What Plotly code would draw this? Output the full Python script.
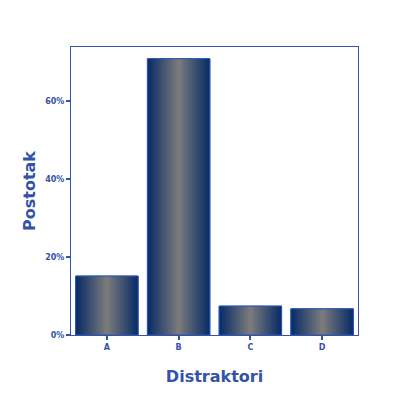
import plotly.graph_objects as go

categories = ["A", "B", "C", "D"]
values = [0.151, 0.708, 0.074, 0.067]
y_ticks = [0, 0.2, 0.4, 0.6]
y_ticktext = ["0%", "20%", "40%", "60%"]

blue = "#3352a8"
bar_w = 0.87
pos = list(range(len(categories)))

fig = go.Figure()

# plain bars underneath (hover + outline)
fig.add_trace(go.Bar(
    x=pos, y=values, width=bar_w,
    marker=dict(color="#0c2e6a", line=dict(color="#3a62c0", width=1)),
    hoverinfo="skip"
))

# gradient skin on top of each bar, built from the same values
for p, v in zip(pos, values):
    x0, x1 = p - bar_w / 2, p + bar_w / 2
    fig.add_trace(go.Scatter(
        x=[x0, x1, x1, x0, x0], y=[0, 0, v, v, 0],
        mode="lines", fill="toself",
        line=dict(color="#2a56b8", width=1),
        fillgradient=dict(
            type="horizontal",
            colorscale=[[0, "#062a66"], [0.5, "#7c7c7c"], [1, "#062a66"]],
        ),
        hoverinfo="skip"
    ))

fig.update_xaxes(
    range=[-0.5, 3.5],
    tickvals=pos, ticktext=categories,
    ticks="outside", ticklen=4, tickwidth=2, tickcolor=blue,
    showline=True, linecolor=blue, linewidth=1, mirror=True,
    showgrid=False, zeroline=False,
    tickfont=dict(family="DejaVu Sans", size=8, color=blue, weight="bold"),
    title=dict(text="Distraktori", standoff=20,
               font=dict(family="DejaVu Sans", size=16, color=blue, weight="bold"))
)
fig.update_yaxes(
    range=[0, 0.738],
    tickvals=y_ticks, ticktext=y_ticktext,
    ticks="outside", ticklen=4, tickwidth=2, tickcolor=blue,
    showline=True, linecolor=blue, linewidth=1, mirror=True,
    showgrid=False, zeroline=False,
    tickfont=dict(family="DejaVu Sans", size=8, color=blue, weight="bold"),
    title=dict(text="Postotak", standoff=5,
               font=dict(family="DejaVu Sans", size=16, color=blue, weight="bold"))
)

fig.update_layout(
    width=407, height=405,
    showlegend=False,
    plot_bgcolor="white", paper_bgcolor="white",
    margin=dict(l=63, r=57, t=39, b=78),
    bargap=0.13
)

fig.write_html("out.html")
